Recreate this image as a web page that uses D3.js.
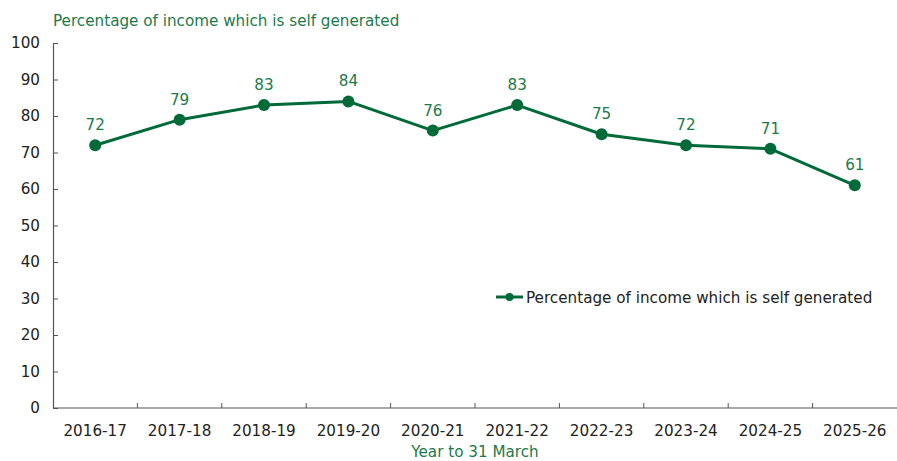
<!DOCTYPE html>
<html>
<head>
<meta charset="utf-8">
<script src="https://cdn.jsdelivr.net/npm/d3@7/dist/d3.min.js"></script>
<style>
  html, body { margin: 0; padding: 0; background: #fff; }
  svg { display: block; font-family: "DejaVu Sans", Verdana, sans-serif; }
</style>
</head>
<body>
<svg id="chart" width="897" height="461"></svg>
<script>
const categories = ["2016-17", "2017-18", "2018-19", "2019-20", "2020-21",
                    "2021-22", "2022-23", "2023-24", "2024-25", "2025-26"];
const selfGenerated = [72, 79, 83, 84, 76, 83, 75, 72, 71, 61];
const yTicks = [0, 10, 20, 30, 40, 50, 60, 70, 80, 90, 100];
const seriesName = "Percentage of income which is self generated";
const axisTitle = "Year to 31 March";

const lineColor = "#006a38";
const textGreen = "#1b7a4b";
const axisColor = "#555";
const fs = 15.2;

const svg = d3.select("#chart");
const margin = { left: 53, right: 0, top: 43, bottom: 53 };
const W = 897, H = 461;

const x = d3.scaleBand().domain(categories).range([margin.left, W - margin.right]);
const y = d3.scaleLinear().domain([0, 100]).range([H - margin.bottom, margin.top]);

// y axis: ticks pointing into the plot
const yAxis = svg.append("g").attr("transform", `translate(${margin.left},0)`)
  .call(d3.axisLeft(y).tickValues(yTicks).tickSizeInner(-5).tickSizeOuter(0).tickPadding(13));
yAxis.select(".domain").attr("stroke", axisColor).attr("stroke-width", 1.2);
yAxis.selectAll(".tick line").attr("stroke", axisColor);
yAxis.selectAll(".tick text").attr("fill", "#222").attr("font-size", fs)
  .attr("font-family", "DejaVu Sans, Verdana, sans-serif");

// x axis: baseline with upward tick marks between categories
const xAxisG = svg.append("g").attr("transform", `translate(0,${y(0)})`);
xAxisG.append("line")
  .attr("x1", margin.left).attr("x2", W)
  .attr("stroke", axisColor).attr("stroke-width", 1.2);
xAxisG.selectAll("line.sep")
  .data(categories.slice(1))
  .join("line").attr("class", "sep")
  .attr("x1", d => x(d)).attr("x2", d => x(d))
  .attr("y1", 0).attr("y2", -5)
  .attr("stroke", axisColor);
xAxisG.selectAll("text")
  .data(categories)
  .join("text")
  .attr("x", d => x(d) + x.bandwidth() / 2)
  .attr("y", 28)
  .attr("text-anchor", "middle")
  .attr("font-size", fs)
  .attr("fill", "#222")
  .text(d => d);

// titles
svg.append("text").attr("x", 53).attr("y", 26)
  .attr("font-size", fs).attr("fill", textGreen).text(seriesName);
svg.append("text").attr("x", x(categories[4]) + x.bandwidth())
  .attr("y", 457).attr("text-anchor", "middle")
  .attr("font-size", fs).attr("fill", textGreen).text(axisTitle);

// series line and markers
const pts = categories.map((c, i) => ({ c, v: selfGenerated[i] }));
const line = d3.line().x(d => x(d.c) + x.bandwidth() / 2).y(d => y(d.v));
svg.append("path").datum(pts)
  .attr("d", line).attr("fill", "none")
  .attr("stroke", lineColor).attr("stroke-width", 3)
  .attr("stroke-linejoin", "round");
svg.selectAll("circle.pt").data(pts).join("circle").attr("class", "pt")
  .attr("cx", d => x(d.c) + x.bandwidth() / 2).attr("cy", d => y(d.v))
  .attr("r", 6).attr("fill", lineColor);
svg.selectAll("text.lbl").data(pts).join("text").attr("class", "lbl")
  .attr("x", d => x(d.c) + x.bandwidth() / 2).attr("y", d => y(d.v) - 15)
  .attr("text-anchor", "middle").attr("font-size", fs).attr("fill", textGreen)
  .text(d => d.v);

// legend
const lg = svg.append("g").attr("transform", "translate(496,297)");
lg.append("line").attr("x1", 0).attr("x2", 27).attr("stroke", lineColor).attr("stroke-width", 3);
lg.append("circle").attr("cx", 13.5).attr("r", 4).attr("fill", lineColor);
lg.append("text").attr("x", 30).attr("y", 5.5).attr("font-size", fs)
  .attr("fill", "#222").text(seriesName);
</script>
</body>
</html>
